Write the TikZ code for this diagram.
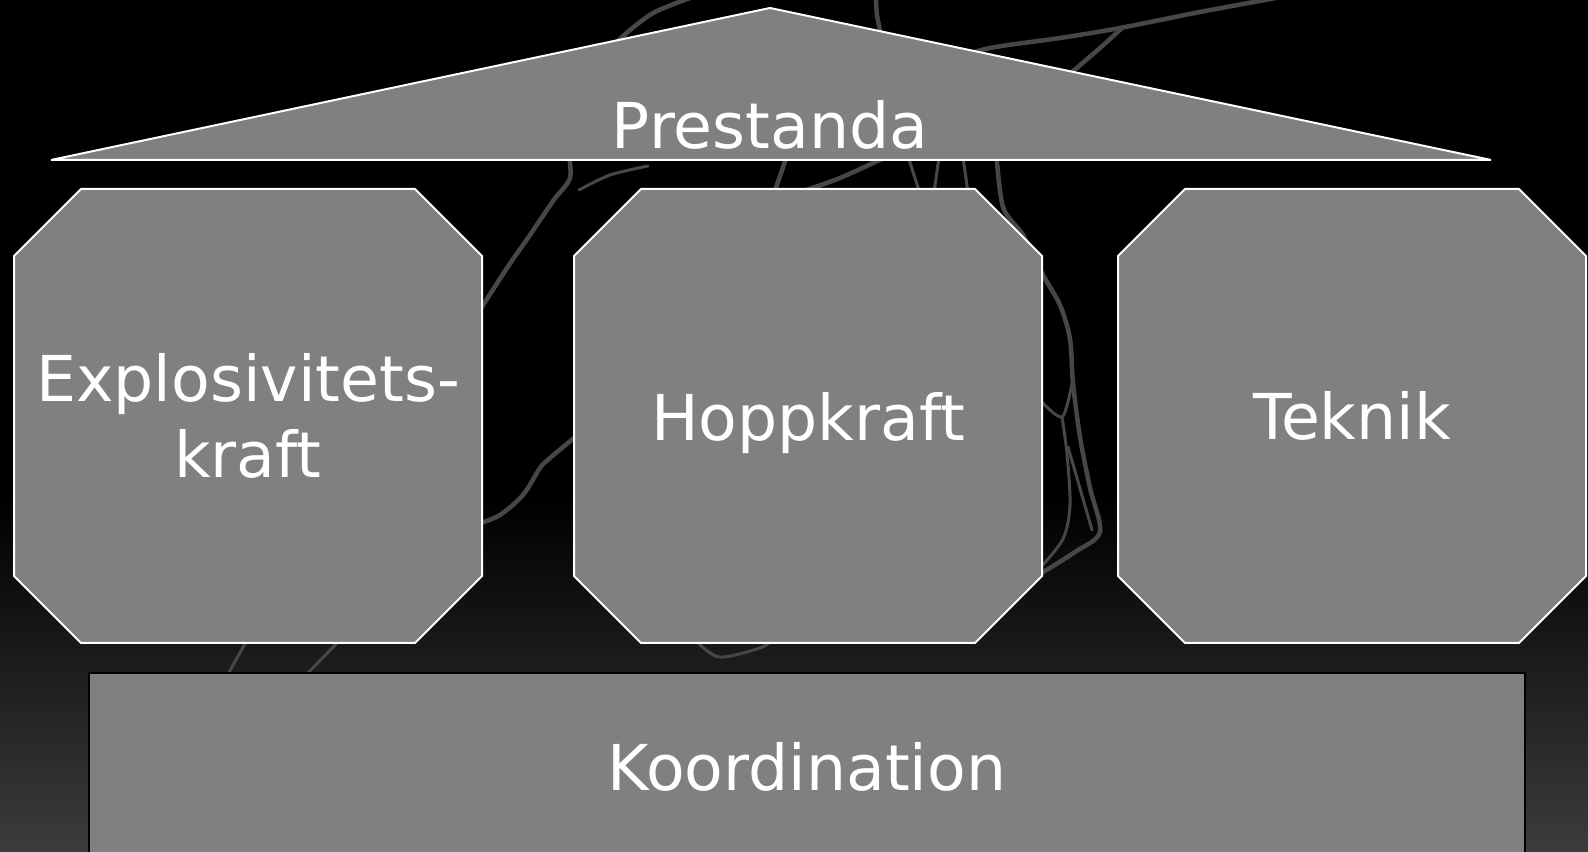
\documentclass[tikz,border=0pt]{standalone}
\usepackage{fontspec}
\setmainfont{DejaVu Sans}
\usepackage{xcolor}
\definecolor{slab}{HTML}{808080}
\definecolor{pencil}{HTML}{474747}
\definecolor{floor}{HTML}{3C3C3C}
\tikzset{
  every picture/.style={x=0.1mm, y=-0.1mm, line width=0.2mm},
  lettering/.style={font=\fontsize{18}{21.6}\selectfont, text=white, align=center},
  roof/.style={draw=white, fill=slab, line join=bevel},
  pillarface/.style={draw=white, fill=slab},
  footing/.style={rectangle, draw=black, fill=slab, minimum width=143.6mm, minimum height=18.8mm, lettering},
  pencilline/.style={draw=pencil, line width=0.45mm, line cap=round},
  thinpencil/.style={pencilline, line width=0.3mm},
}
\begin{document}
\begin{tikzpicture}
  \useasboundingbox (0,0) rectangle (1588,852);
  \clip (0,0) rectangle (1588,852);
  \fill[black] (0,0) rectangle (1588,500);
  \shade[top color=black, bottom color=floor] (0,499) rectangle (1588,852);

  \draw[pencilline] plot[smooth] coordinates {(606,52) (630,30) (655,12) (690,-2)};
  \draw[pencilline] plot[smooth] coordinates {(876,-2) (877,15) (882,40)};
  \draw[pencilline] plot[smooth] coordinates {(950,60) (990,48) (1060,38) (1120,28) (1200,12) (1276,-2)};
  \draw[pencilline] plot[smooth] coordinates {(1122,28) (1100,48) (1065,78)};
  \draw[pencilline] plot[smooth] coordinates {(568,150) (570,178) (553,201) (530,235) (507,268) (480,310)};
  \draw[thinpencil] plot[smooth] coordinates {(579,190) (610,175) (648,166)};
  \draw[pencilline] (789,150) -- (770,205);
  \draw[pencilline] plot[smooth] coordinates {(800,192) (840,178) (890,155)};
  \draw[thinpencil] (906,150) -- (922,200);
  \draw[thinpencil] (940,150) -- (933,200);
  \draw[thinpencil] (962,150) -- (969,200);
  \draw[pencilline] plot[smooth] coordinates {(996,150) (1003,207) (1023,235) (1043,275) (1060,305) (1070,339)
    (1073,383) (1080,437) (1090,488) (1100,532) (1075,552) (1040,574)};
  \draw[thinpencil] plot[smooth] coordinates {(1040,400) (1062,417) (1072,383)};
  \draw[thinpencil] plot[smooth] coordinates {(1062,417) (1067,454) (1070,505) (1063,539) (1040,568)};
  \draw[thinpencil] (1068,447) -- (1092,530);
  \draw[pencilline] plot[smooth] coordinates {(478,524) (500,515) (523,495) (540,468) (550,458) (580,433)};
  \draw[thinpencil] (247,640) -- (227,676);
  \draw[thinpencil] (340,640) -- (305,676);
  \draw[thinpencil] plot[smooth] coordinates {(695,640) (719,657) (760,648) (772,640)};

  \filldraw[roof] (51,160) -- (770,8) -- (1491,160) -- cycle;
  \node[lettering, anchor=base] (prestanda) at (770,149) {Prestanda};

  \foreach \cx in {248,808,1352}
    \filldraw[pillarface] ({\cx-234},256) -- ({\cx-167},189) -- ({\cx+167},189) -- ({\cx+234},256)
      -- ({\cx+234},576) -- ({\cx+167},643) -- ({\cx-167},643) -- ({\cx-234},576) -- cycle;

  \node[lettering] (explosiv) at (248,416) {Explosivitets-\\kraft};
  \node[lettering, text depth=0pt] (hopp) at (808,416) {Hoppkraft};
  \node[lettering] (teknik) at (1352,416) {Teknik};

  \node[footing] (koord) at (807,767) {Koordination};
\end{tikzpicture}
\end{document}
